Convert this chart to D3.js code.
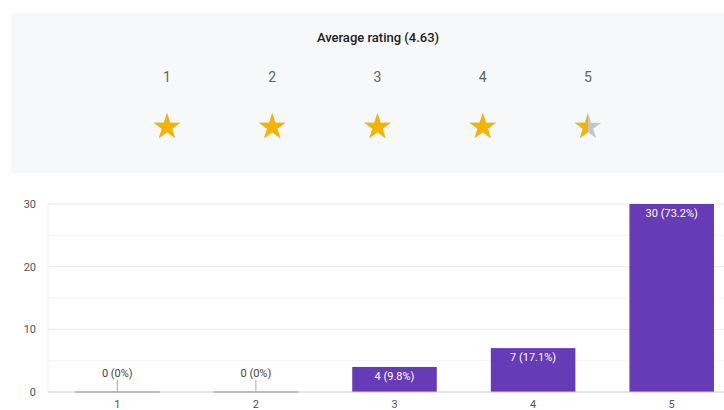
<!DOCTYPE html>
<html>
<head>
<meta charset="utf-8">
<script src="https://cdn.jsdelivr.net/npm/d3@7"></script>
<style>
  body { margin: 0; background: #fff; }
  svg { display: block; font-family: Roboto, Arial, sans-serif; }
</style>
</head>
<body>
<svg id="chart"></svg>
<script>
// data
const ratings = [1, 2, 3, 4, 5];
const counts = [0, 0, 4, 7, 30];
const yTicks = [0, 10, 20, 30];
const minorTicks = [5, 15, 25];

const total = d3.sum(counts);
const average = d3.sum(ratings, (r, i) => r * counts[i]) / total;

const width = 724, height = 410;
const svg = d3.select('#chart').attr('width', width).attr('height', height);

// ---- rating panel
svg.append('rect')
    .attr('x', 11).attr('y', 13)
    .attr('width', width - 11).attr('height', 160)
    .attr('fill', '#f6f8fa');

svg.append('text')
    .attr('x', 378).attr('y', 42)
    .attr('text-anchor', 'middle')
    .attr('font-size', 13)
    .attr('font-weight', 500)
    .attr('fill', '#202124')
    .text(`Average rating (${average.toFixed(2)})`);

const starX = d3.scalePoint().domain(ratings).range([167, 588]);
const starPath = d3.symbol(d3.symbolStar).size(220)();

const stars = svg.append('g');
stars.selectAll('.num')
    .data(ratings)
    .join('text')
    .attr('class', 'num')
    .attr('x', d => starX(d))
    .attr('y', 82)
    .attr('text-anchor', 'middle')
    .attr('font-size', 14)
    .attr('fill', '#5f6368')
    .text(d => d);

// fraction of each star that is filled (rounded to halves)
const fill = d => Math.max(0, Math.min(1, Math.round((average - d + 1) * 2) / 2));

svg.append('defs').selectAll('clipPath')
    .data(ratings)
    .join('clipPath')
    .attr('id', d => 'clip' + d)
    .append('rect')
    .attr('x', -16).attr('y', -16)
    .attr('width', d => 32 * fill(d) - (fill(d) < 1 ? 16 - 16 : 0))
    .attr('height', 32);

const starG = stars.selectAll('.star')
    .data(ratings)
    .join('g')
    .attr('class', 'star')
    .attr('transform', d => `translate(${starX(d)},127)`);
starG.append('path').attr('d', starPath).attr('fill', '#c6c6c6');
starG.append('path').attr('d', starPath).attr('fill', '#f4b400')
    .attr('clip-path', d => `url(#clip${d})`);

// ---- bar chart
const margin = {left: 48, top: 204, bottom: 392};
const x = d3.scaleBand()
    .domain(ratings)
    .range([margin.left, 741])
    .paddingInner(0.39)
    .paddingOuter(0.195);
const y = d3.scaleLinear().domain([0, 30]).range([margin.bottom, margin.top]);

const chart = svg.append('g');

chart.selectAll('.minor')
    .data(minorTicks)
    .join('line')
    .attr('x1', margin.left).attr('x2', width)
    .attr('y1', d => y(d)).attr('y2', d => y(d))
    .attr('stroke', '#f3f3f3');

chart.selectAll('.grid')
    .data(yTicks.filter(d => d > 0))
    .join('line')
    .attr('x1', margin.left).attr('x2', width)
    .attr('y1', d => y(d)).attr('y2', d => y(d))
    .attr('stroke', '#e8e8e8');

chart.append('line')
    .attr('x1', margin.left).attr('x2', margin.left)
    .attr('y1', y(30)).attr('y2', y(0))
    .attr('stroke', '#eeeeee');

const yAxis = d3.axisLeft(y).tickValues(yTicks).tickSize(0).tickPadding(12);
chart.append('g')
    .attr('transform', `translate(${margin.left},0)`)
    .call(yAxis)
    .call(g => g.select('.domain').remove())
    .call(g => g.selectAll('text').attr('font-size', 11).attr('fill', '#555')
        .attr('font-family', 'Roboto, Arial, sans-serif'));

const data = ratings.map((r, i) => ({rating: r, count: counts[i]}));
const pct = d => `${d.count} (${+(d.count / total * 100).toFixed(1)}%)`;

chart.selectAll('.bar')
    .data(data.filter(d => d.count > 0))
    .join('rect')
    .attr('class', 'bar')
    .attr('x', d => x(d.rating))
    .attr('y', d => y(d.count))
    .attr('width', x.bandwidth())
    .attr('height', d => y(0) - y(d.count))
    .attr('fill', '#673ab7');

// baseline
chart.append('line')
    .attr('x1', margin.left).attr('x2', width)
    .attr('y1', y(0)).attr('y2', y(0))
    .attr('stroke', '#cccccc');

// zero-count markers
const zeros = data.filter(d => d.count === 0);
chart.selectAll('.zero')
    .data(zeros)
    .join('line')
    .attr('x1', d => x(d.rating)).attr('x2', d => x(d.rating) + x.bandwidth())
    .attr('y1', y(0)).attr('y2', y(0))
    .attr('stroke', '#bbbbbb').attr('stroke-width', 2);
chart.selectAll('.zeroTick')
    .data(zeros)
    .join('line')
    .attr('x1', d => x(d.rating) + x.bandwidth() / 2)
    .attr('x2', d => x(d.rating) + x.bandwidth() / 2)
    .attr('y1', y(0) - 12).attr('y2', y(0))
    .attr('stroke', '#aaaaaa');

chart.selectAll('.label')
    .data(data)
    .join('text')
    .attr('x', d => x(d.rating) + x.bandwidth() / 2)
    .attr('y', d => d.count > 0 ? y(d.count) + 13 : y(0) - 15)
    .attr('text-anchor', 'middle')
    .attr('font-size', 11)
    .attr('fill', d => d.count > 0 ? '#ffffff' : '#444')
    .text(pct);

const xAxis = d3.axisBottom(x).tickSize(0).tickPadding(8);
chart.append('g')
    .attr('transform', `translate(0,${y(0)})`)
    .call(xAxis)
    .call(g => g.select('.domain').remove())
    .call(g => g.selectAll('text').attr('font-size', 11).attr('fill', '#555')
        .attr('font-family', 'Roboto, Arial, sans-serif'));
</script>
</body>
</html>
